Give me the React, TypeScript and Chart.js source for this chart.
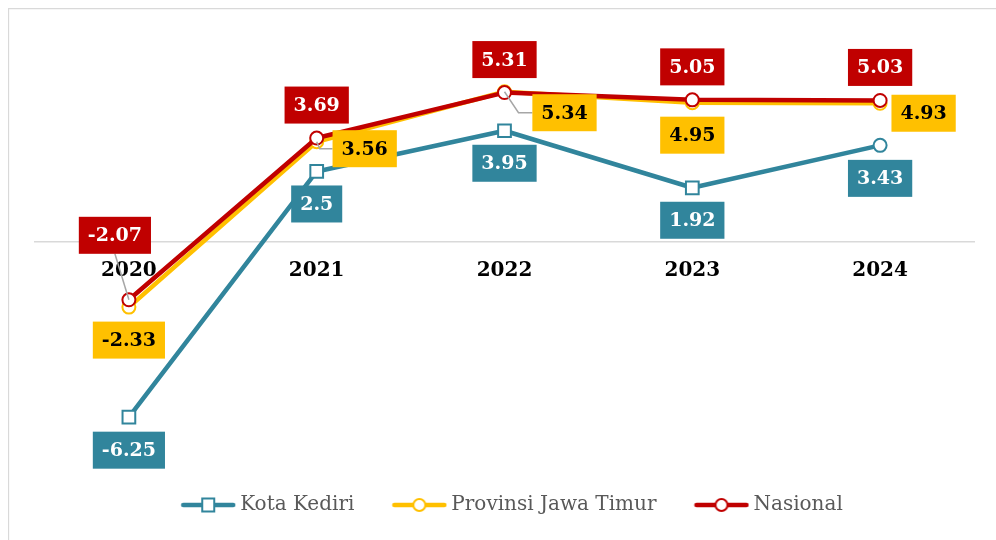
import React, { useEffect, useRef } from "react";
import { Chart, registerables } from "chart.js";

Chart.register(...registerables);

// ---- data ----
const categories = ["2020", "2021", "2022", "2023", "2024"];
const seriesNames = ["Kota Kediri", "Provinsi Jawa Timur", "Nasional"];
const kotaKediri = [-6.25, 2.5, 3.95, 1.92, 3.43];
const jawaTimur = [-2.33, 3.56, 5.34, 4.95, 4.93];
const nasional = [-2.07, 3.69, 5.31, 5.05, 5.03];

// ---- styles ----
const COLORS = ["#31859C", "#FFC000", "#C00000"];
const LABEL_TEXT = ["#FFFFFF", "#000000", "#FFFFFF"];
const SERIF = "'DejaVu Serif', serif";

// data-label placement (pixel offsets from the point)
type Place = { dx: number; dy: number; via?: number[][]; to?: "left" | "bottom" };
const labelPlacement: Place[][] = [
  [
    { dx: 0, dy: 33 },
    { dx: 0, dy: 32.5 },
    { dx: 0, dy: 32.5 },
    { dx: 0, dy: 32.5 },
    { dx: 0, dy: 33 },
  ],
  [
    { dx: 0, dy: 33 },
    { dx: 48, dy: 7, via: [[3, 7]], to: "left" },
    { dx: 60, dy: 21, via: [[14, 21]], to: "left" },
    { dx: 0, dy: 32.5 },
    { dx: 43.5, dy: 10 },
  ],
  [
    { dx: -14, dy: -64.5, via: [], to: "bottom" },
    { dx: 0, dy: -33 },
    { dx: 0, dy: -33 },
    { dx: 0, dy: -33 },
    { dx: 0, dy: -33 },
  ],
];

const pointStyles: any[] = [
  ["rect", "rect", "rect", "rect", "circle"],
  "circle",
  "circle",
];
const pointRadii: any[] = [[9, 9, 9, 9, 6.5], 6.5, 6.5];

function makeLegendIcon(color: string, square: boolean) {
  const c = document.createElement("canvas");
  c.width = 56;
  c.height = 18;
  const g = c.getContext("2d")!;
  g.strokeStyle = color;
  g.lineWidth = 4.5;
  g.lineCap = "round";
  g.beginPath();
  g.moveTo(3, 9);
  g.lineTo(53, 9);
  g.stroke();
  g.fillStyle = "#FFFFFF";
  g.lineWidth = 2;
  g.beginPath();
  if (square) {
    g.rect(22, 2.5, 12, 13);
  } else {
    g.arc(28, 9, 6, 0, Math.PI * 2);
  }
  g.fill();
  g.stroke();
  return c;
}

const borderPlugin = {
  id: "outerBorder",
  afterLayout(chart: any) {
    // centre the legend under the figure rather than the plot area
    if (chart.legend) {
      chart.legend.left += 10;
      chart.legend.right += 10;
    }
  },
  beforeDraw(chart: any) {
    const { ctx, width, height } = chart;
    ctx.save();
    ctx.strokeStyle = "#d9d9d9";
    ctx.lineWidth = 1.25;
    ctx.beginPath();
    ctx.moveTo(0.5, height);
    ctx.lineTo(0.5, 0.5);
    ctx.lineTo(width, 0.5);
    ctx.stroke();
    ctx.restore();
  },
};

const dataLabelPlugin = {
  id: "boxLabels",
  afterDatasetsDraw(chart: any) {
    const ctx = chart.ctx;
    chart.data.datasets.forEach((ds: any, di: number) => {
      const meta = chart.getDatasetMeta(di);
      meta.data.forEach((pt: any, i: number) => {
        const place = labelPlacement[di][i];
        const text = String(ds.data[i]);
        ctx.save();
        ctx.font = `bold 19px ${SERIF}`;
        const tw = ctx.measureText(text).width;
        const w = tw + 18;
        const h = 37;
        const cx = pt.x + place.dx;
        const cy = pt.y + place.dy;
        if (place.to) {
          ctx.strokeStyle = "#A6A6A6";
          ctx.lineWidth = 1.5;
          ctx.beginPath();
          ctx.moveTo(pt.x, pt.y);
          (place.via || []).forEach((v) => ctx.lineTo(pt.x + v[0], pt.y + v[1]));
          if (place.to === "left") ctx.lineTo(cx - w / 2, cy);
          else ctx.lineTo(cx, cy + h / 2);
          ctx.stroke();
        }
        ctx.fillStyle = COLORS[di];
        ctx.fillRect(cx - w / 2, cy - h / 2, w, h);
        ctx.fillStyle = LABEL_TEXT[di];
        ctx.textAlign = "center";
        ctx.textBaseline = "middle";
        ctx.fillText(text, cx, cy + 1);
        ctx.restore();
      });
    });
  },
};

export default function App() {
  const ref = useRef<HTMLCanvasElement | null>(null);

  useEffect(() => {
    if (!ref.current) return;
    document.documentElement.style.overflow = "hidden";
    document.body.style.overflow = "hidden";
    document.body.style.width = "1200px";
    const values = [kotaKediri, jawaTimur, nasional];
    const icons = [
      makeLegendIcon(COLORS[0], true),
      makeLegendIcon(COLORS[1], false),
      makeLegendIcon(COLORS[2], false),
    ];
    const chart = new Chart(ref.current, {
      type: "line",
      data: {
        labels: categories,
        datasets: values.map((v, i) => ({
          label: seriesNames[i],
          data: v,
          borderColor: COLORS[i],
          backgroundColor: COLORS[i],
          borderWidth: 4.5,
          borderCapStyle: "round",
          borderJoinStyle: "round",
          tension: 0,
          pointStyle: pointStyles[i],
          pointRadius: pointRadii[i],
          pointBackgroundColor: "#FFFFFF",
          pointBorderColor: COLORS[i],
          pointBorderWidth: 2,
          order: 2 - i,
          clip: false as any,
        })),
      },
      options: {
        responsive: false,
        animation: false,
        events: [],
        layout: { padding: { left: 27, right: 30, top: 8, bottom: 43 } },
        scales: {
          x: {
            type: "category",
            offset: true,
            position: { y: 0 } as any,
            grid: { display: false },
            border: { display: true, color: "#d9d9d9", width: 1.5 },
            ticks: {
              color: "#000000",
              font: { family: SERIF, size: 20, weight: "bold" },
              padding: 9,
              maxRotation: 0,
            },
          },
          y: {
            min: -7.49,
            max: 7.93,
            display: false,
          },
        },
        plugins: {
          tooltip: { enabled: false },
          legend: {
            position: "bottom",
            labels: {
              usePointStyle: true,
              pointStyleWidth: 44,
              boxHeight: 20,
              padding: 43,
              color: "#595959",
              font: { family: SERIF, size: 20 },
              generateLabels: (c: any) =>
                c.data.datasets.map((ds: any, i: number) => ({
                  text: ds.label,
                  pointStyle: icons[i],
                  fillStyle: COLORS[i],
                  strokeStyle: COLORS[i],
                  fontColor: "#595959",
                  lineWidth: 0,
                  hidden: false,
                  datasetIndex: i,
                })),
            },
          },
        },
      },
      plugins: [borderPlugin, dataLabelPlugin],
    });
    return () => chart.destroy();
  }, []);

  return (
    <div style={{ width: 996, height: 560 }}>
      <canvas ref={ref} width={996} height={560} />
    </div>
  );
}
